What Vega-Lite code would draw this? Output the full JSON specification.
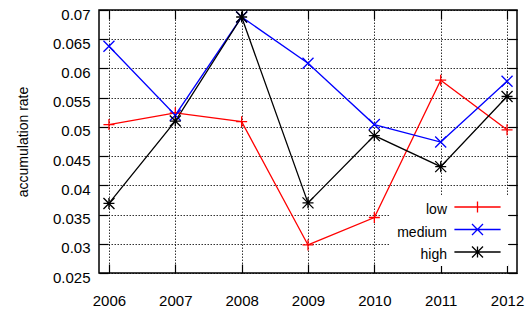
{
  "$schema": "https://vega.github.io/schema/vega-lite/v6.json",
  "width": 418,
  "height": 263,
  "autosize": {"type": "none"},
  "padding": {"left": 99, "top": 10, "right": 15, "bottom": 43},
  "background": "white",
  "config": {
    "font": "Liberation Sans",
    "view": {"stroke": "#000", "strokeWidth": 1.5},
    "axis": {
      "labelFont": "Liberation Sans",
      "labelColor": "#000",
      "titleFont": "Liberation Sans",
      "titleColor": "#000",
      "titleFontWeight": "normal",
      "domain": false,
      "tickColor": "#000",
      "tickWidth": 1.2
    }
  },
  "data": {
    "values": [
      {"year": 2006, "series": "low", "value": 0.0504},
      {"year": 2007, "series": "low", "value": 0.0524},
      {"year": 2008, "series": "low", "value": 0.0509},
      {"year": 2009, "series": "low", "value": 0.0298},
      {"year": 2010, "series": "low", "value": 0.0345},
      {"year": 2011, "series": "low", "value": 0.0580},
      {"year": 2012, "series": "low", "value": 0.0495},
      {"year": 2006, "series": "medium", "value": 0.0638},
      {"year": 2007, "series": "medium", "value": 0.0520},
      {"year": 2008, "series": "medium", "value": 0.0688},
      {"year": 2009, "series": "medium", "value": 0.0609},
      {"year": 2010, "series": "medium", "value": 0.0504},
      {"year": 2011, "series": "medium", "value": 0.0474},
      {"year": 2012, "series": "medium", "value": 0.0578},
      {"year": 2006, "series": "high", "value": 0.0369},
      {"year": 2007, "series": "high", "value": 0.0510},
      {"year": 2008, "series": "high", "value": 0.0688},
      {"year": 2009, "series": "high", "value": 0.0370},
      {"year": 2010, "series": "high", "value": 0.0485},
      {"year": 2011, "series": "high", "value": 0.0432},
      {"year": 2012, "series": "high", "value": 0.0552}
    ]
  },
  "layer": [
    {
      "mark": {"type": "line", "strokeWidth": 1.3},
      "encoding": {
        "x": {
          "field": "year", "type": "quantitative",
          "scale": {"domain": [2005.85, 2012.15], "nice": false, "zero": false},
          "axis": {
            "values": [2006, 2007, 2008, 2009, 2010, 2011, 2012],
            "format": "d", "title": null, "labelFontSize": 15,
            "tickSize": -9, "labelPadding": 29,
            "grid": true, "gridColor": "#000", "gridDash": [1.5, 1.5], "gridOpacity": 0.8, "gridWidth": 1
          }
        },
        "y": {
          "field": "value", "type": "quantitative",
          "scale": {"domain": [0.025, 0.07], "nice": false, "zero": false},
          "axis": {
            "values": [0.025, 0.03, 0.035, 0.04, 0.045, 0.05, 0.055, 0.06, 0.065, 0.07],
            "format": "~g", "title": "accumulation rate", "titleFontSize": 14,
            "titlePadding": 22, "labelFontSize": 15, "labelOffset": 4,
            "tickSize": -9, "labelPadding": 18,
            "grid": true, "gridColor": "#000", "gridDash": [1.5, 1.5], "gridOpacity": 0.8, "gridWidth": 1
          }
        },
        "color": {
          "field": "series", "type": "nominal",
          "scale": {"domain": ["low", "medium", "high"], "range": ["#ff0000", "#0000ff", "#000000"]},
          "legend": {
            "orient": "none", "legendX": 291, "legendY": 186, "title": null, "direction": "vertical",
            "symbolSize": 121, "symbolStrokeWidth": 1.3, "symbolOffset": 76.5,
            "labelAlign": "right", "labelOffset": -37.5, "labelFontSize": 14, "labelFont": "Liberation Sans",
            "labelColor": "#000", "rowPadding": 3.5, "padding": 4, "fillColor": "white",
            "encode": {
              "symbols": {"update": {"shape": {"signal": "datum.value === 'low' ? 'M-4.2,0H4.2M0,-1V1' : datum.value === 'medium' ? 'M-4.2,0H4.2M-1,-1L1,1M-1,1L1,-1' : 'M-4.2,0H4.2M0,-1V1M-1,-1L1,1M-1,1L1,-1'"}}},
              "labels": {"update": {"dy": {"value": 3}}}
            }
          }
        }
      }
    },
    {
      "transform": [{"filter": "datum.series === 'low'"}],
      "mark": {"type": "point", "filled": false, "size": 121, "strokeWidth": 1.3, "opacity": 1, "shape": "M-1,0H1M0,-1V1"},
      "encoding": {
        "x": {
          "field": "year", "type": "quantitative",
          "scale": {"domain": [2005.85, 2012.15], "nice": false, "zero": false},
          "axis": {
            "orient": "top", "values": [2006, 2007, 2008, 2009, 2010, 2011, 2012],
            "labels": false, "title": null, "tickSize": -9, "grid": false
          }
        },
        "y": {
          "field": "value", "type": "quantitative",
          "scale": {"domain": [0.025, 0.07], "nice": false, "zero": false},
          "axis": {
            "orient": "right", "values": [0.025, 0.03, 0.035, 0.04, 0.045, 0.05, 0.055, 0.06, 0.065, 0.07],
            "labels": false, "title": null, "tickSize": -9, "grid": false
          }
        },
        "color": {
          "field": "series", "type": "nominal",
          "scale": {"domain": ["low", "medium", "high"], "range": ["#ff0000", "#0000ff", "#000000"]},
          "legend": {
            "orient": "none", "legendX": 291, "legendY": 186, "title": null, "direction": "vertical",
            "symbolSize": 121, "symbolStrokeWidth": 1.3, "symbolOffset": 76.5,
            "labelAlign": "right", "labelOffset": -37.5, "labelFontSize": 14, "labelFont": "Liberation Sans",
            "labelColor": "#000", "rowPadding": 3.5, "padding": 4, "fillColor": "white",
            "encode": {
              "symbols": {"update": {"shape": {"signal": "datum.value === 'low' ? 'M-4.2,0H4.2M0,-1V1' : datum.value === 'medium' ? 'M-4.2,0H4.2M-1,-1L1,1M-1,1L1,-1' : 'M-4.2,0H4.2M0,-1V1M-1,-1L1,1M-1,1L1,-1'"}}},
              "labels": {"update": {"dy": {"value": 3}}}
            }
          }
        }
      }
    },
    {
      "transform": [{"filter": "datum.series === 'medium'"}],
      "mark": {"type": "point", "filled": false, "size": 121, "strokeWidth": 1.3, "opacity": 1, "shape": "M-1,-1L1,1M-1,1L1,-1"},
      "encoding": {
        "x": {
          "field": "year", "type": "quantitative",
          "scale": {"domain": [2005.85, 2012.15], "nice": false, "zero": false},
          "axis": null
        },
        "y": {
          "field": "value", "type": "quantitative",
          "scale": {"domain": [0.025, 0.07], "nice": false, "zero": false},
          "axis": null
        },
        "color": {
          "field": "series", "type": "nominal",
          "scale": {"domain": ["low", "medium", "high"], "range": ["#ff0000", "#0000ff", "#000000"]},
          "legend": {
            "orient": "none", "legendX": 291, "legendY": 186, "title": null, "direction": "vertical",
            "symbolSize": 121, "symbolStrokeWidth": 1.3, "symbolOffset": 76.5,
            "labelAlign": "right", "labelOffset": -37.5, "labelFontSize": 14, "labelFont": "Liberation Sans",
            "labelColor": "#000", "rowPadding": 3.5, "padding": 4, "fillColor": "white",
            "encode": {
              "symbols": {"update": {"shape": {"signal": "datum.value === 'low' ? 'M-4.2,0H4.2M0,-1V1' : datum.value === 'medium' ? 'M-4.2,0H4.2M-1,-1L1,1M-1,1L1,-1' : 'M-4.2,0H4.2M0,-1V1M-1,-1L1,1M-1,1L1,-1'"}}},
              "labels": {"update": {"dy": {"value": 3}}}
            }
          }
        }
      }
    },
    {
      "transform": [{"filter": "datum.series === 'high'"}],
      "mark": {"type": "point", "filled": false, "size": 121, "strokeWidth": 1.3, "opacity": 1, "shape": "M-1,0H1M0,-1V1M-1,-1L1,1M-1,1L1,-1"},
      "encoding": {
        "x": {
          "field": "year", "type": "quantitative",
          "scale": {"domain": [2005.85, 2012.15], "nice": false, "zero": false},
          "axis": null
        },
        "y": {
          "field": "value", "type": "quantitative",
          "scale": {"domain": [0.025, 0.07], "nice": false, "zero": false},
          "axis": null
        },
        "color": {
          "field": "series", "type": "nominal",
          "scale": {"domain": ["low", "medium", "high"], "range": ["#ff0000", "#0000ff", "#000000"]},
          "legend": {
            "orient": "none", "legendX": 291, "legendY": 186, "title": null, "direction": "vertical",
            "symbolSize": 121, "symbolStrokeWidth": 1.3, "symbolOffset": 76.5,
            "labelAlign": "right", "labelOffset": -37.5, "labelFontSize": 14, "labelFont": "Liberation Sans",
            "labelColor": "#000", "rowPadding": 3.5, "padding": 4, "fillColor": "white",
            "encode": {
              "symbols": {"update": {"shape": {"signal": "datum.value === 'low' ? 'M-4.2,0H4.2M0,-1V1' : datum.value === 'medium' ? 'M-4.2,0H4.2M-1,-1L1,1M-1,1L1,-1' : 'M-4.2,0H4.2M0,-1V1M-1,-1L1,1M-1,1L1,-1'"}}},
              "labels": {"update": {"dy": {"value": 3}}}
            }
          }
        }
      }
    }
  ],
  "resolve": {"axis": {"x": "independent", "y": "independent"}}
}
